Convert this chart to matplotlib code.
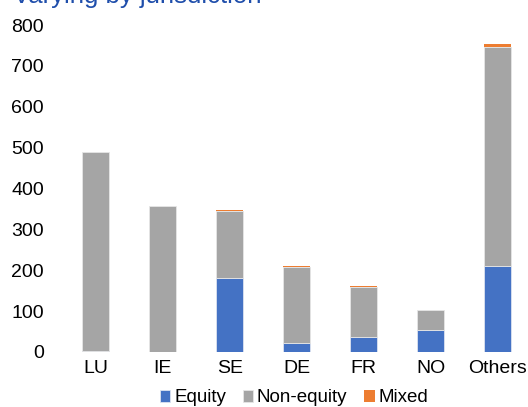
import numpy as np
import matplotlib.pyplot as plt

plt.rcParams['font.family'] = ['Liberation Sans', 'DejaVu Sans']

countries = ['LU', 'IE', 'SE', 'DE', 'FR', 'NO', 'Others']
equity = [3, 1, 180, 23, 37, 54, 210]
non_equity = [487, 357, 166, 185, 121, 49, 535]
mixed = [0, 0, 1, 2, 3, 0, 8]

colors = {'Equity': '#4472C4', 'Non-equity': '#A5A5A5', 'Mixed': '#ED7D31'}

fig = plt.figure(figsize=(5.28, 4.07), dpi=100)
ax = fig.add_axes([62 / 528, 1 - 352 / 407, 466 / 528, 327 / 407])

x = np.arange(len(countries))
eq = np.array(equity)
ne = np.array(non_equity)
mx = np.array(mixed)

ax.bar(x, eq, 0.4, color=colors['Equity'], edgecolor='#dce3f0', linewidth=0.6, label='Equity')
ax.bar(x, ne, 0.4, bottom=eq, color=colors['Non-equity'], edgecolor='#e6e6e6', linewidth=0.6, label='Non-equity')
ax.bar(x, mx, 0.4, bottom=eq + ne, color=colors['Mixed'], linewidth=0, label='Mixed')

ax.set_xlim(-0.5, 6.45)
ax.set_ylim(0, 800)
ax.set_yticks(range(0, 801, 100))
ax.set_xticks(x)
ax.set_xticklabels(countries)
for s in ax.spines.values():
    s.set_visible(False)
ax.tick_params(axis='both', length=0, labelsize=14, colors='#000000')
ax.tick_params(axis='y', pad=13)
ax.tick_params(axis='x', pad=6)

# title sits partly above the top edge, as in the reference
fig.text(13 / 528, 1 - 3 / 407, 'Varying by jurisdiction', color='#1F4EAB',
         fontsize=18.5, ha='left', va='baseline')

fig.legend(loc='center', bbox_to_anchor=(294 / 528, 1 - 398 / 407), ncol=3,
           frameon=False, fontsize=13.5, handlelength=0.55, handleheight=0.55,
           handletextpad=0.2, columnspacing=0.9, borderaxespad=0)

fig.savefig('out.png', dpi=100)
